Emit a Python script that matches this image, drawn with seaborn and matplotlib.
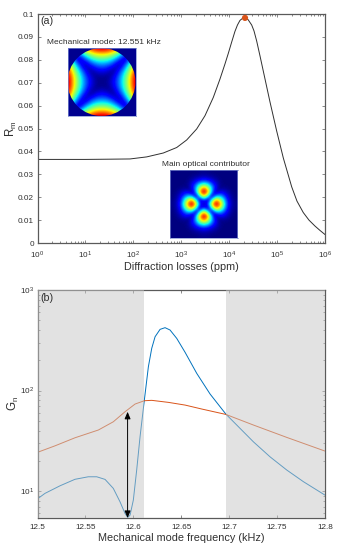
import numpy as np
import pandas as pd
import seaborn as sns
from matplotlib import pyplot as plt
from matplotlib.patches import Circle
from matplotlib.ticker import LogLocator, NullFormatter

sns.set_style("white")
plt.rcParams['font.family'] = ['Liberation Sans', 'DejaVu Sans']
plt.rcParams['mathtext.default'] = 'regular'
plt.rcParams['text.color'] = '#303030'

# panel (a)
loss_ppm = [1, 3, 10, 32, 85, 190, 422, 804, 1300, 2100, 3130, 4670, 6430, 8180, 9590, 11300, 13200,
            14900, 16800, 19000, 21400, 24700, 29500, 33000, 37500, 44000, 51500, 71100, 98100,
            135000, 202000, 260000, 352000, 463000, 618000, 785000, 1000000]
rm = [0.0365, 0.0365, 0.0365, 0.0366, 0.0367, 0.0376, 0.0393, 0.0417, 0.0450, 0.0498, 0.0556, 0.0636, 0.0716,
      0.0782, 0.0828, 0.0878, 0.0924, 0.0952, 0.0972, 0.0981, 0.0983, 0.0976, 0.0952, 0.0926, 0.0882, 0.0817,
      0.0751, 0.0616, 0.0489, 0.0371, 0.0245, 0.0183, 0.0133, 0.0100, 0.0074, 0.0055, 0.0037]
peak_ppm = [21400]
peak_rm = [0.0983]

# panel (b)
freq_blue = [12.500, 12.5078, 12.5235, 12.5391, 12.553, 12.5618, 12.5705, 12.5791, 12.5861, 12.5913,
             12.5942, 12.5966, 12.600, 12.6035, 12.607, 12.6115, 12.6157, 12.6192, 12.6227, 12.6279,
             12.6331, 12.6383, 12.6453, 12.654, 12.6662, 12.6801, 12.6965, 12.7079, 12.7253, 12.7427,
             12.7601, 12.7775, 12.800]
gain_blue = [8.37, 9.49, 11.29, 13.1, 13.88, 13.88, 13.07, 10.64, 7.83, 6.0,
             5.47, 5.77, 8.14, 16.2, 34.7, 80.5, 172.5, 263, 343, 406,
             422, 400, 330, 240, 148, 92.3, 58.4, 45.4, 30.9, 21.9,
             16.2, 12.4, 9.12]
freq_orange = [12.500, 12.5183, 12.5391, 12.5635, 12.5791, 12.5913, 12.6018, 12.6115, 12.6192, 12.6365,
               12.654, 12.6714, 12.6965, 12.7253, 12.7601, 12.800]
gain_orange = [24.3, 28.2, 33.9, 40.5, 48.9, 61.5, 73.4, 79.2, 79.9, 76.3,
               71.7, 65.5, 57.9, 45.4, 34.2, 25]
gray_left = [12.5, 12.611]
gray_right = [12.697, 12.8]
arrow_freq = 12.594
arrow_gain = [5.4, 61.5]

# insets, one quadrant each, mirrored below
mech_quadrant = np.array([
    [0.00, 0.03, 0.11, 0.25, 0.44, 0.69, 1.00],
    [0.03, 0.00, 0.08, 0.22, 0.42, 0.67, 0.97],
    [0.11, 0.08, 0.00, 0.14, 0.33, 0.58, 0.89],
    [0.25, 0.22, 0.14, 0.00, 0.19, 0.44, 0.75],
    [0.44, 0.42, 0.33, 0.19, 0.00, 0.25, 0.56],
    [0.69, 0.67, 0.58, 0.44, 0.25, 0.00, 0.31],
    [1.00, 0.97, 0.89, 0.75, 0.56, 0.31, 0.00]])
opt_quadrant = np.array([
    [0.00, 0.20, 0.70, 1.00, 0.80, 0.42, 0.15, 0.04, 0.01],
    [0.20, 0.00, 0.40, 0.76, 0.60, 0.35, 0.12, 0.03, 0.01],
    [0.70, 0.40, 0.00, 0.28, 0.30, 0.20, 0.08, 0.02, 0.00],
    [1.00, 0.76, 0.28, 0.00, 0.11, 0.09, 0.04, 0.01, 0.00],
    [0.80, 0.60, 0.30, 0.11, 0.00, 0.02, 0.01, 0.00, 0.00],
    [0.42, 0.35, 0.20, 0.09, 0.02, 0.00, 0.00, 0.00, 0.00],
    [0.15, 0.12, 0.08, 0.04, 0.01, 0.00, 0.00, 0.00, 0.00],
    [0.04, 0.03, 0.02, 0.01, 0.00, 0.00, 0.00, 0.00, 0.00],
    [0.01, 0.01, 0.00, 0.00, 0.00, 0.00, 0.00, 0.00, 0.00]])

W, H = 339, 552
EDGE = '#5A5A5A'
TICK_SIZE = 5.9
LABEL_SIZE = 7.8


def mirror(q):
    row = np.hstack([np.fliplr(q[:, 1:]), q])
    return np.vstack([np.flipud(row[1:]), row])


def px_axes(fig, left, top, right, bottom):
    return fig.add_axes([left / W, 1 - bottom / H, (right - left) / W, (bottom - top) / H])


def style_axes(ax):
    ax.tick_params(which='both', direction='in', top=True, right=True, bottom=True, left=True,
                   colors=EDGE, labelcolor='#303030', labelsize=TICK_SIZE, width=0.5, pad=2.5)
    ax.tick_params(axis='x', which='both', pad=4.5)
    ax.tick_params(which='major', length=2.4)
    ax.tick_params(which='minor', length=1.3)
    for spine in ax.spines.values():
        spine.set_color(EDGE)
        spine.set_linewidth(0.9)


def style_inset(ax):
    ax.set_xticks([])
    ax.set_yticks([])
    for spine in ax.spines.values():
        spine.set_color('#7F8FD0')
        spine.set_linewidth(0.5)


fig = plt.figure(figsize=(W / 100, H / 100), dpi=100)

ax_a = px_axes(fig, 37.5, 14, 325, 243)
sns.lineplot(x=loss_ppm, y=rm, color='#303030', linewidth=0.7, ax=ax_a, estimator=None, sort=False)
sns.scatterplot(x=peak_ppm, y=peak_rm, color='#D95319', s=20, edgecolor='none', ax=ax_a, zorder=5, clip_on=False)
ax_a.set_xscale('log')
ax_a.set_xlim(1, 1e6)
ax_a.set_ylim(0, 0.1)
ax_a.set_xticks([1, 10, 100, 1000, 1e4, 1e5, 1e6])
ax_a.xaxis.set_minor_locator(LogLocator(base=10, subs=np.arange(2, 10), numticks=12))
ax_a.xaxis.set_minor_formatter(NullFormatter())
ax_a.set_yticks(np.arange(0, 0.101, 0.01))
ax_a.set_yticklabels(['0', '0.01', '0.02', '0.03', '0.04', '0.05', '0.06', '0.07', '0.08', '0.09', '0.1'])
ax_a.set_xlabel('Diffraction losses (ppm)', fontsize=LABEL_SIZE, labelpad=0.8, color='#303030')
ax_a.set_ylabel('$R_m$', fontsize=LABEL_SIZE + 0.5, labelpad=-1, color='#303030')
fig.text(40.5 / W, 1 - 21.5 / H, '(a)', fontsize=7.7, va='center')
style_axes(ax_a)

ax_b = px_axes(fig, 37.5, 290, 325, 518)
sns.lineplot(x=freq_blue, y=gain_blue, color='#0072BD', linewidth=0.7, ax=ax_b, estimator=None, sort=False)
sns.lineplot(x=freq_orange, y=gain_orange, color='#D95319', linewidth=0.7, ax=ax_b, estimator=None, sort=False)
ax_b.axvspan(gray_left[0], gray_left[1], color='#C7C7C7', alpha=0.5, lw=0, zorder=3)
ax_b.axvspan(gray_right[0], gray_right[1], color='#C7C7C7', alpha=0.5, lw=0, zorder=3)
ax_b.annotate('', xy=(arrow_freq, arrow_gain[0]), xytext=(arrow_freq, arrow_gain[1]), zorder=6,
              arrowprops=dict(arrowstyle='<|-|>,head_length=0.6,head_width=0.25', color='black', lw=0.7,
                              mutation_scale=7, shrinkA=0, shrinkB=0))
ax_b.set_yscale('log')
ax_b.set_xlim(12.5, 12.8)
ax_b.set_ylim(5.4, 1000)
ax_b.set_xticks([12.5, 12.55, 12.6, 12.65, 12.7, 12.75, 12.8])
ax_b.set_xticklabels(['12.5', '12.55', '12.6', '12.65', '12.7', '12.75', '12.8'])
ax_b.set_yticks([10, 100, 1000])
ax_b.yaxis.set_minor_locator(LogLocator(base=10, subs=np.arange(2, 10), numticks=12))
ax_b.yaxis.set_minor_formatter(NullFormatter())
ax_b.set_xlabel('Mechanical mode frequency (kHz)', fontsize=LABEL_SIZE, labelpad=1.5, color='#303030')
ax_b.set_ylabel('$G_n$', fontsize=LABEL_SIZE + 0.5, labelpad=-1, color='#303030')
fig.text(40.5 / W, 1 - 297.7 / H, '(b)', fontsize=7.7, va='center', zorder=10)
style_axes(ax_b)

# mechanical mode inset
ax_m = px_axes(fig, 67.5, 48, 135.5, 116)
ax_m.set_facecolor('#00008F')
img = ax_m.imshow(mirror(mech_quadrant), cmap='jet', vmin=0, vmax=1, interpolation='bicubic',
                  extent=(-6.5, 6.5, -6.5, 6.5))
img.set_clip_path(Circle((0, 0), 6, transform=ax_m.transData))
ax_m.set_xlim(-6, 6)
ax_m.set_ylim(-6, 6)
style_inset(ax_m)
fig.text(103.5 / W, 1 - 43 / H, 'Mechanical mode: 12.551 kHz', fontsize=6, ha='center', va='center')

# optical inset
ax_o = px_axes(fig, 170, 170, 237.5, 238)
ax_o.imshow(mirror(opt_quadrant), cmap='jet', vmin=0, vmax=1, interpolation='bicubic', aspect='auto')
style_inset(ax_o)
fig.text(206 / W, 1 - 165 / H, 'Main optical contributor', fontsize=6, ha='center', va='center')

fig.savefig('out.png', dpi=100)
